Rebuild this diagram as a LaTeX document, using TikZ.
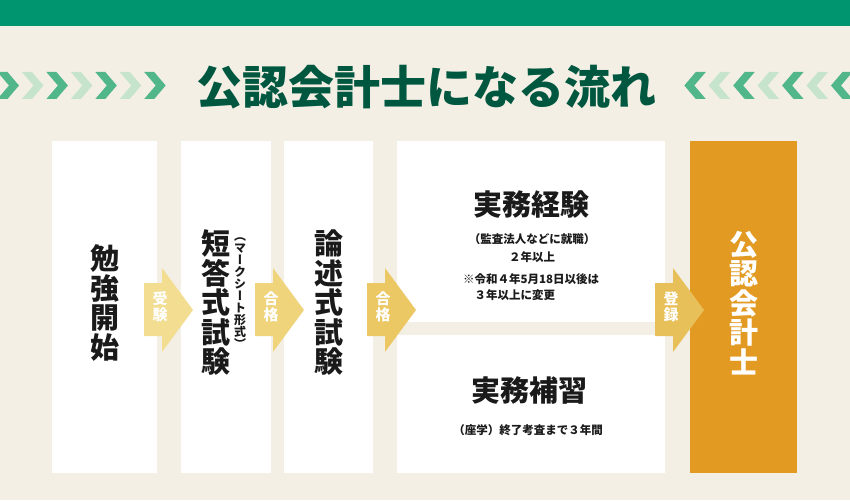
\documentclass[tikz,border=0pt]{standalone}
\usepackage{fontspec}
\setmainfont{Noto Sans CJK JP}
\newfontfamily\tatefont{Noto Sans CJK JP}[RawFeature=+vert]
\usepackage{tikz}
\usetikzlibrary{positioning}
\definecolor{bg}{HTML}{F3EFE5}
\definecolor{topbar}{HTML}{00946F}
\definecolor{titlegreen}{HTML}{00573F}
\definecolor{chevdark}{HTML}{52B68B}
\definecolor{chevlight}{HTML}{C6E4CC}
\definecolor{goal}{HTML}{E29A22}
\definecolor{ink}{HTML}{1A1A1A}
\definecolor{stepA}{HTML}{F2DD90}
\definecolor{stepB}{HTML}{EFD47C}
\definecolor{stepC}{HTML}{EBC864}
\definecolor{stepD}{HTML}{E8C05A}
\tikzset{
  card/.style={fill=white, draw=none, inner sep=0pt, anchor=north west},
  tall/.style={
    font=\tatefont\bfseries\fontsize{29}{29.5}\selectfont,
    text=ink,
    align=center,
    inner sep=0pt
  },
  tallsmall/.style={
    font=\tatefont\bfseries\fontsize{12}{12}\selectfont,
    text=ink,
    align=center,
    inner sep=0pt
  },
  head/.style={font=\bfseries\fontsize{29}{29}\selectfont, text=ink, inner sep=0pt},
  note/.style={font=\bfseries\fontsize{11.5}{11.5}\selectfont, text=ink, inner sep=0pt},
  steptag/.style={
    font=\tatefont\bfseries\fontsize{15}{15.5}\selectfont,
    text=white,
    align=center,
    inner sep=0pt
  }
}

\begin{document}
\begin{tikzpicture}[x=1pt,y=-1pt]
  \fill[bg] (0,0) rectangle (850,500);
  \useasboundingbox (0,0) rectangle (850,500);
  \fill[topbar] (0,0) rectangle (850,26);

  % chevrons on both sides of the title
  \foreach \i in {0,...,6}{
    \pgfmathsetmacro{\cx}{-2.5+24.45*\i}
    \pgfmathtruncatemacro{\odd}{mod(\i,2)}
    \ifnum\odd=0 \def\cc{chevdark}\else \def\cc{chevlight}\fi
    \fill[\cc] (\cx,72)--(\cx+10,72)--(\cx+21.5,85.5)--(\cx+10,99)--(\cx,99)--(\cx+11.5,85.5)--cycle;
    \fill[\cc] (850-\cx,72)--(840-\cx,72)--(828.5-\cx,85.5)--(840-\cx,99)--(850-\cx,99)--(838.5-\cx,85.5)--cycle;
  }
  \node[font=\bfseries\fontsize{46}{46}\selectfont, text=titlegreen, inner sep=0pt] (title) at (426,87) {公認会計士になる流れ};

  % cards
  \node[card, minimum width=105, minimum height=332] (study) at (52,141) {};
  \node[card, minimum width=90, minimum height=332] (short) at (181,141) {};
  \node[card, minimum width=89, minimum height=332] (essay) at (284,141) {};
  \node[card, minimum width=268, minimum height=181] (work) at (397,141) {};
  \node[card, minimum width=268, minimum height=138] (train) at (397,335) {};
  \node[card, fill=goal, minimum width=107, minimum height=332] (cpa) at (690,141) {};

  \node[tall] (studyText) at (104.5,303) {勉\\強\\開\\始};
  \node[tall] (shortText) at (216,303) {短\\答\\式\\試\\験};
  \node[tallsmall] (markText) at (240,293) {（\\マ\\ー\\ク\\シ\\ー\\ト\\形\\式\\）};
  \node[tall] (essayText) at (328.5,303) {論\\述\\式\\試\\験};
  \node[tall, text=white] (cpaText) at (743.5,303) {公\\認\\会\\計\\士};

  \node[head] (workText) at (531,205) {実務経験};
  \node[note] (workNote) at (532,239) {（監査法人などに就職）};
  \node[note, below=7pt of workNote] (workYears) {２年以上};
  \node[note, anchor=west] (workRule) at (463,279.5) {※令和４年5月18日以後は};
  \node[note, anchor=west] (workRuleB) at (463,295) {　３年以上に変更};

  \node[head] (trainText) at (529,391) {実務補習};
  \node[note] (trainNote) at (528,430) {（座学）終了考査まで３年間};

  % step arrows
  \foreach \x/\c/\n/\lab in {144/stepA/passA/受\\験, 255/stepB/passB/合\\格, 367/stepC/passC/合\\格, 655/stepD/passD/登\\録}{
    \fill[\c] (\x,283)--(\x+18,283)--(\x+18,268)--(\x+49,310)--(\x+18,352)--(\x+18,336)--(\x,336)--cycle;
    \node[steptag] (\n) at (\x+16,307) {\lab};
  }
\end{tikzpicture}
\end{document}
